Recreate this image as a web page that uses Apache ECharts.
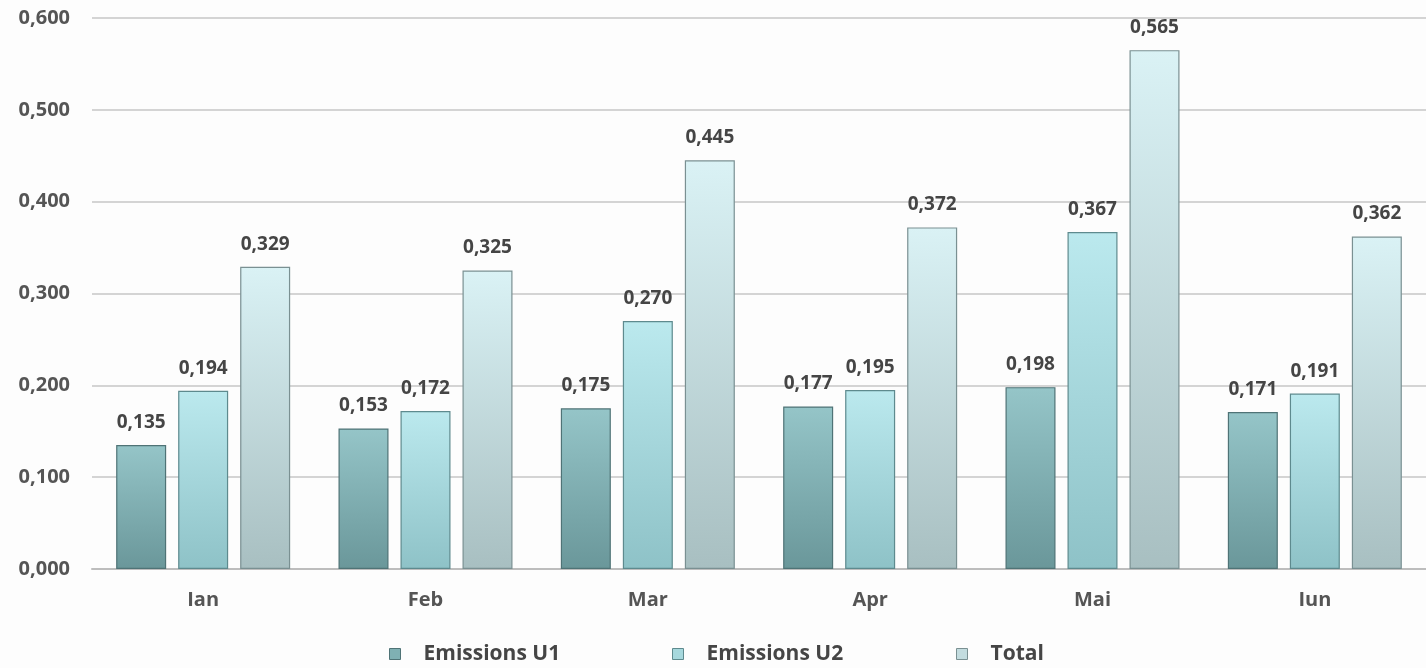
<!DOCTYPE html>
<html>
<head>
<meta charset="utf-8">
<style>
  html, body { margin: 0; padding: 0; background: #fdfdfd; }
  #chart { width: 1426px; height: 668px; }
</style>
<script src="https://cdn.jsdelivr.net/npm/echarts@6/dist/echarts.min.js"></script>
</head>
<body>
<div id="chart"></div>
<script>
// Monthly emissions per unit and their total
const months = ['Ian', 'Feb', 'Mar', 'Apr', 'Mai', 'Iun'];
const emissionsU1 = [0.135, 0.153, 0.175, 0.177, 0.198, 0.171];
const emissionsU2 = [0.194, 0.172, 0.270, 0.195, 0.367, 0.191];
const totals = [0.329, 0.325, 0.445, 0.372, 0.565, 0.362];
const seriesNames = ['Emissions U1', 'Emissions U2', 'Total'];

const fmt = v => v.toFixed(3).replace('.', ',');
const FONT = '"Open Sans", "Liberation Sans", sans-serif';
const TEXT = '#454545';

function grad(top, bottom) {
  return new echarts.graphic.LinearGradient(0, 0, 0, 1, [
    { offset: 0, color: top },
    { offset: 1, color: bottom }
  ]);
}

const palettes = [
  { fill: grad('#95c5c8', '#6a979a'), border: '#4f7376', icon: '#7fb0b3' },
  { fill: grad('#bbe9ee', '#8ec2c7'), border: '#5e8a8e', icon: '#a6d8dd' },
  { fill: grad('#daf2f5', '#a8bfc1'), border: '#7a9092', icon: '#c3dcdf' }
];

function makeSeries(name, data, pal) {
  return {
    name: name,
    type: 'bar',
    data: data,
    barWidth: 50,
    barGap: '24%',
    itemStyle: { color: pal.fill, borderColor: pal.border, borderWidth: 1.2 },
    label: {
      show: true,
      position: 'top',
      distance: 13,
      formatter: p => fmt(p.value),
      fontFamily: FONT,
      fontWeight: 'bold',
      fontSize: 19,
      color: TEXT
    }
  };
}

// one legend block per series so the three entries sit at even spacing
const legendLefts = [389, 672, 956];
const legends = seriesNames.map((name, i) => ({
  data: [{ name: name, itemStyle: { color: palettes[i].icon, borderColor: palettes[i].border, borderWidth: 1 } }],
  left: legendLefts[i],
  top: 640,
  padding: 0,
  icon: 'rect',
  itemWidth: 11,
  itemHeight: 11,
  selectedMode: false,
  textStyle: { fontFamily: FONT, fontWeight: 'bold', fontSize: 21, color: TEXT, padding: [0, 0, 0, 18], lineHeight: 28 }
}));

const chart = echarts.init(document.getElementById('chart'));
chart.setOption({
  backgroundColor: '#fdfdfd',
  animation: false,
  grid: { left: 92, right: 0, top: 18, bottom: 99 },
  legend: legends,
  xAxis: {
    type: 'category',
    data: months,
    axisLine: { lineStyle: { color: '#bdbdbd', width: 2 } },
    axisTick: { show: false },
    axisLabel: { margin: 21, fontFamily: FONT, fontWeight: 'bold', fontSize: 20, color: '#555555' }
  },
  yAxis: {
    type: 'value',
    min: 0,
    max: 0.6,
    interval: 0.1,
    axisLine: { show: false },
    axisTick: { show: false },
    splitLine: { lineStyle: { color: '#c6c6c6', width: 1.5 } },
    axisLabel: {
      margin: 22,
      formatter: v => fmt(v),
      fontFamily: FONT,
      fontWeight: 'bold',
      fontSize: 20,
      color: '#555555'
    }
  },
  series: [
    makeSeries(seriesNames[0], emissionsU1, palettes[0]),
    makeSeries(seriesNames[1], emissionsU2, palettes[1]),
    makeSeries(seriesNames[2], totals, palettes[2])
  ]
});
</script>
</body>
</html>
